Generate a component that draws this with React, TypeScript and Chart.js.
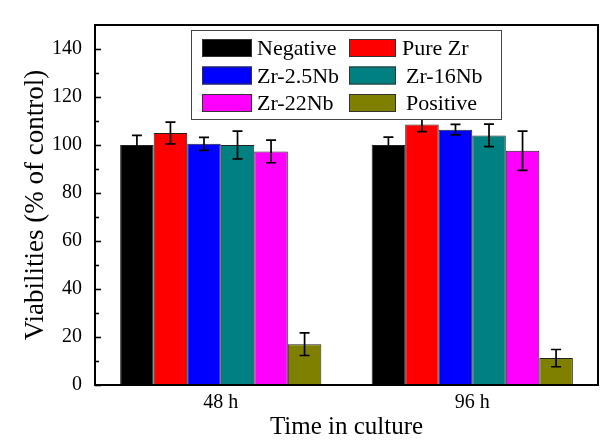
import React, { useEffect, useRef } from "react";
import { Chart, registerables } from "chart.js";

Chart.register(...registerables);

const categories = ["48 h", "96 h"];
const seriesLabels = ["Negative", "Pure Zr", "Zr-2.5Nb", "Zr-16Nb", "Zr-22Nb", "Positive"];
const seriesColors = ["#000000", "#ff0000", "#0000ff", "#008080", "#ff00ff", "#808000"];

const negative = [100, 100];
const pureZr = [105, 108.5];
const zr25Nb = [100.5, 106.4];
const zr16Nb = [100, 104];
const zr22Nb = [97.3, 97.6];
const positive = [17, 11.2];

const negativeErr = [4, 3.3];
const pureZrErr = [4.5, 2.9];
const zr25NbErr = [2.7, 2.2];
const zr16NbErr = [5.8, 4.7];
const zr22NbErr = [4.7, 8.2];
const positiveErr = [4.7, 3.6];

const seriesValues = [negative, pureZr, zr25Nb, zr16Nb, zr22Nb, positive];
const seriesErrors = [negativeErr, pureZrErr, zr25NbErr, zr16NbErr, zr22NbErr, positiveErr];

const yMin = 0;
const yMax = 150;
const yMajorStep = 20;
const yMinorStep = 10;

const FONT = "'Liberation Serif', 'Times New Roman', serif";

const framePlugin = {
  id: "frameAndTicks",
  afterDatasetsDraw(chart: any) {
    const { ctx, scales } = chart;
    const y = scales.y;
    ctx.save();
    ctx.strokeStyle = "#000";
    ctx.lineWidth = 1.7;
    chart.data.datasets.forEach((ds: any, i: number) => {
      const meta = chart.getDatasetMeta(i);
      meta.data.forEach((bar: any, j: number) => {
        const v = ds.data[j];
        const e = seriesErrors[i][j];
        const x = bar.x;
        const yt = y.getPixelForValue(v + e);
        const yb = y.getPixelForValue(v - e);
        const cap = 5;
        ctx.beginPath();
        ctx.moveTo(x, yt);
        ctx.lineTo(x, yb);
        ctx.moveTo(x - cap, yt);
        ctx.lineTo(x + cap, yt);
        ctx.moveTo(x - cap, yb);
        ctx.lineTo(x + cap, yb);
        ctx.stroke();
      });
    });
    ctx.restore();
  },
  afterDraw(chart: any) {
    const { ctx, chartArea, scales } = chart;
    const y = scales.y;
    ctx.save();
    ctx.strokeStyle = "#000";
    ctx.lineWidth = 2;
    ctx.strokeRect(chartArea.left, chartArea.top, chartArea.right - chartArea.left, chartArea.bottom - chartArea.top);
    ctx.lineWidth = 1.6;
    for (let v = yMin; v <= yMax - yMinorStep; v += yMinorStep) {
      const py = Math.round(y.getPixelForValue(v)) + 0.5;
      const len = v % yMajorStep === 0 ? 6 : 4;
      ctx.beginPath();
      ctx.moveTo(chartArea.left, py);
      ctx.lineTo(chartArea.left + len, py);
      ctx.stroke();
    }
    // legend
    const bx = chartArea.left + 96;
    const by = chartArea.top + 5;
    const bw = 310;
    const bh = 89;
    ctx.fillStyle = "#fff";
    ctx.fillRect(bx, by, bw, bh);
    ctx.strokeStyle = "#444";
    ctx.lineWidth = 1;
    ctx.strokeRect(bx + 0.5, by + 0.5, bw, bh);
    ctx.font = "normal 22px " + FONT;
    ctx.textBaseline = "alphabetic";
    ctx.textAlign = "left";
    chart.data.datasets.forEach((ds: any, i: number) => {
      const col = i % 2;
      const row = Math.floor(i / 2);
      const sx = col === 0 ? bx + 11 : bx + 158;
      const sw = col === 0 ? 50 : 47;
      const sy = by + 9 + row * 27.5;
      ctx.fillStyle = ds.backgroundColor;
      ctx.fillRect(sx, sy, sw, 18);
      ctx.strokeStyle = "#333";
      ctx.strokeRect(sx + 0.5, sy + 0.5, sw - 1, 17);
      ctx.fillStyle = "#000";
      const tx = col === 0 ? sx + sw + 5 : sx + sw + (row === 0 ? 6 : 10);
      ctx.fillText(ds.label, tx, sy + 16);
    });
    ctx.restore();
  },
};

export default function App() {
  const canvasRef = useRef<HTMLCanvasElement>(null);

  useEffect(() => {
    if (!canvasRef.current) return;
    Chart.defaults.font.family = FONT;
    Chart.defaults.color = "#000";
    const chart = new Chart(canvasRef.current, {
      type: "bar",
      data: {
        labels: categories,
        datasets: seriesLabels.map((label, i) => ({
          label,
          data: seriesValues[i],
          backgroundColor: seriesColors[i],
          borderColor: "#222",
          borderWidth: 1,
          borderSkipped: false,
          categoryPercentage: 0.8,
          barPercentage: 1.0,
        })),
      },
      options: {
        animation: false,
        responsive: true,
        maintainAspectRatio: false,
        layout: { padding: { top: 10, right: 5, left: 0, bottom: 0 } },
        plugins: {
          legend: { display: false },
          tooltip: { enabled: false },
        },
        scales: {
          x: {
            grid: { display: false, drawTicks: false },
            border: { display: false },
            ticks: { font: { size: 20, family: FONT }, color: "#000", padding: 6 },
            title: {
              display: true,
              text: "Time in culture",
              font: { size: 25, family: FONT, lineHeight: 1.0 },
              color: "#000",
              padding: { top: 0, bottom: 0 },
            },
            afterFit: (s: any) => {
              s.height = 55;
            },
          },
          y: {
            min: yMin,
            max: yMax,
            grid: { display: false, drawTicks: false },
            border: { display: false },
            ticks: {
              stepSize: yMajorStep,
              includeBounds: false,
              font: { size: 20, family: FONT },
              color: "#000",
              padding: 13,
            },
            title: {
              display: true,
              text: "Viabilities (% of control)",
              font: { size: 27, family: FONT },
              color: "#000",
              padding: { top: 20, bottom: 0 },
            },
            afterFit: (s: any) => {
              s.width = 95;
            },
          },
        },
      },
      plugins: [framePlugin],
    });
    return () => chart.destroy();
  }, []);

  return (
    <div style={{ position: "fixed", left: 0, top: 0, width: 603, height: 440, background: "#fff" }}>
      <canvas ref={canvasRef} />
    </div>
  );
}
